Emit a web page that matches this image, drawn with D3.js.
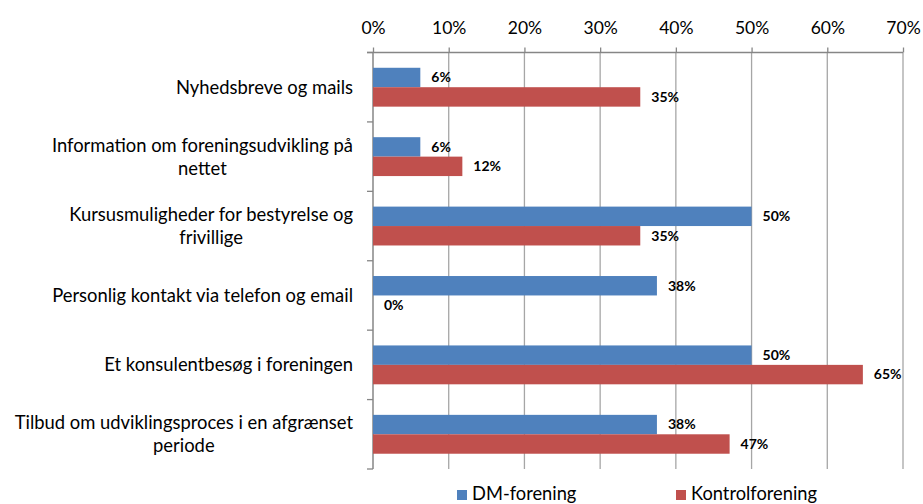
<!DOCTYPE html>
<html>
<head>
<meta charset="utf-8">
<script src="https://cdn.jsdelivr.net/npm/d3@7"></script>
<style>
  html, body { margin: 0; padding: 0; background: #ffffff; }
  svg { display: block; }
</style>
</head>
<body>
<svg id="chart" width="923" height="504"></svg>
<script>
const categories = [
  ["Nyhedsbreve og mails"],
  ["Information om foreningsudvikling på", "nettet"],
  ["Kursusmuligheder for bestyrelse og", "frivillige"],
  ["Personlig kontakt via telefon og email"],
  ["Et konsulentbesøg i foreningen"],
  ["Tilbud om udviklingsproces i en afgrænset", "periode"]
];
const seriesNames = ["DM-forening", "Kontrolforening"];
const dmValues = [6.25, 6.25, 50, 37.5, 50, 37.5];
const kontrolValues = [35.3, 11.8, 35.3, 0, 64.7, 47.1];
const valueLabelsDM = ["6%", "6%", "50%", "38%", "50%", "38%"];
const valueLabelsKontrol = ["35%", "12%", "35%", "0%", "65%", "47%"];
const tickValues = [0, 10, 20, 30, 40, 50, 60, 70];
const colors = ["#4F81BD", "#C0504D"];

const svg = d3.select("#chart");
const FONT = "Lato, 'Open Sans', sans-serif";

const plot = { left: 373, right: 903, top: 52.5, bottom: 469 };

const x = d3.scaleLinear().domain([0, 70]).range([plot.left, plot.right]);
const y = d3.scaleBand().domain(d3.range(categories.length))
  .range([plot.top, plot.bottom]).paddingInner(0.44).paddingOuter(0.22);
const ySub = d3.scaleBand().domain([0, 1]).range([0, y.bandwidth()]);
const yCat = d3.scaleBand().domain(d3.range(categories.length))
  .range([plot.top, plot.bottom]);

// gridlines
svg.append("g").selectAll("line").data(tickValues.slice(1)).join("line")
  .attr("x1", d => x(d)).attr("x2", d => x(d))
  .attr("y1", plot.top).attr("y2", plot.bottom)
  .attr("stroke", "#a6a6a6").attr("stroke-width", 1.3);

// top axis
const xAxis = d3.axisTop(x).tickValues(tickValues).tickSize(5).tickPadding(14)
  .tickFormat(d => d + "%").tickSizeOuter(0);
const gx = svg.append("g").attr("transform", `translate(0,${plot.top})`).call(xAxis);
gx.select(".domain").attr("stroke", "#868686").attr("stroke-width", 1.5)
  .attr("d", `M${plot.left - 6},0H${plot.right}`);
gx.selectAll(".tick line").attr("stroke", "#868686").attr("stroke-width", 1.3);
gx.selectAll(".tick text").attr("font-family", FONT).attr("font-size", 17.5)
  .attr("fill", "#000");

// left axis
const gy = svg.append("g");
gy.append("line").attr("x1", plot.left).attr("x2", plot.left)
  .attr("y1", plot.top).attr("y2", plot.bottom)
  .attr("stroke", "#868686").attr("stroke-width", 1.5);
const boundaries = d3.range(categories.length).map(i => yCat(i)).concat([plot.bottom]);
gy.selectAll("line.tk").data(boundaries).join("line").attr("class", "tk")
  .attr("x1", plot.left - 6).attr("x2", plot.left)
  .attr("y1", d => d).attr("y2", d => d)
  .attr("stroke", "#868686").attr("stroke-width", 1.3);

// category labels (block right-aligned, lines centered within block)
const lineH = 23;
const labelRight = 353;
const catG = svg.append("g");
categories.forEach((lines, i) => {
  const cy = yCat(i) + yCat.bandwidth() / 2;
  const t = catG.append("text")
    .attr("text-anchor", "middle").attr("font-family", FONT).attr("font-size", 18.4)
    .attr("fill", "#000");
  const spans = lines.map((ln, j) => t.append("tspan")
      .attr("y", cy + (j - (lines.length - 1) / 2) * lineH)
      .attr("dy", "0.35em").text(ln));
  const maxW = d3.max(spans, sp => sp.node().getComputedTextLength());
  spans.forEach(sp => sp.attr("x", labelRight - maxW / 2));
});

// bars
const series = [dmValues, kontrolValues];
const labels = [valueLabelsDM, valueLabelsKontrol];
series.forEach((vals, s) => {
  const g = svg.append("g");
  g.selectAll("rect").data(vals).join("rect")
    .attr("x", x(0))
    .attr("y", (d, i) => y(i) + ySub(s))
    .attr("width", d => x(d) - x(0))
    .attr("height", ySub.bandwidth())
    .attr("fill", colors[s]);
  g.selectAll("text").data(vals).join("text")
    .attr("x", d => x(d) + 11)
    .attr("y", (d, i) => y(i) + ySub(s) + ySub.bandwidth() / 2)
    .attr("dy", "0.35em")
    .attr("font-family", FONT).attr("font-size", 14).attr("font-weight", "bold")
    .attr("fill", "#000")
    .text((d, i) => labels[s][i]);
});

// legend
const legendX = [457, 676];
const leg = svg.append("g");
seriesNames.forEach((name, s) => {
  leg.append("rect").attr("x", legendX[s]).attr("y", 490).attr("width", 10).attr("height", 10)
    .attr("fill", colors[s]);
  leg.append("text").attr("x", legendX[s] + 15).attr("y", 499.5)
    .attr("font-family", FONT).attr("font-size", 18.3).attr("fill", "#000").text(name);
});
</script>
</body>
</html>
